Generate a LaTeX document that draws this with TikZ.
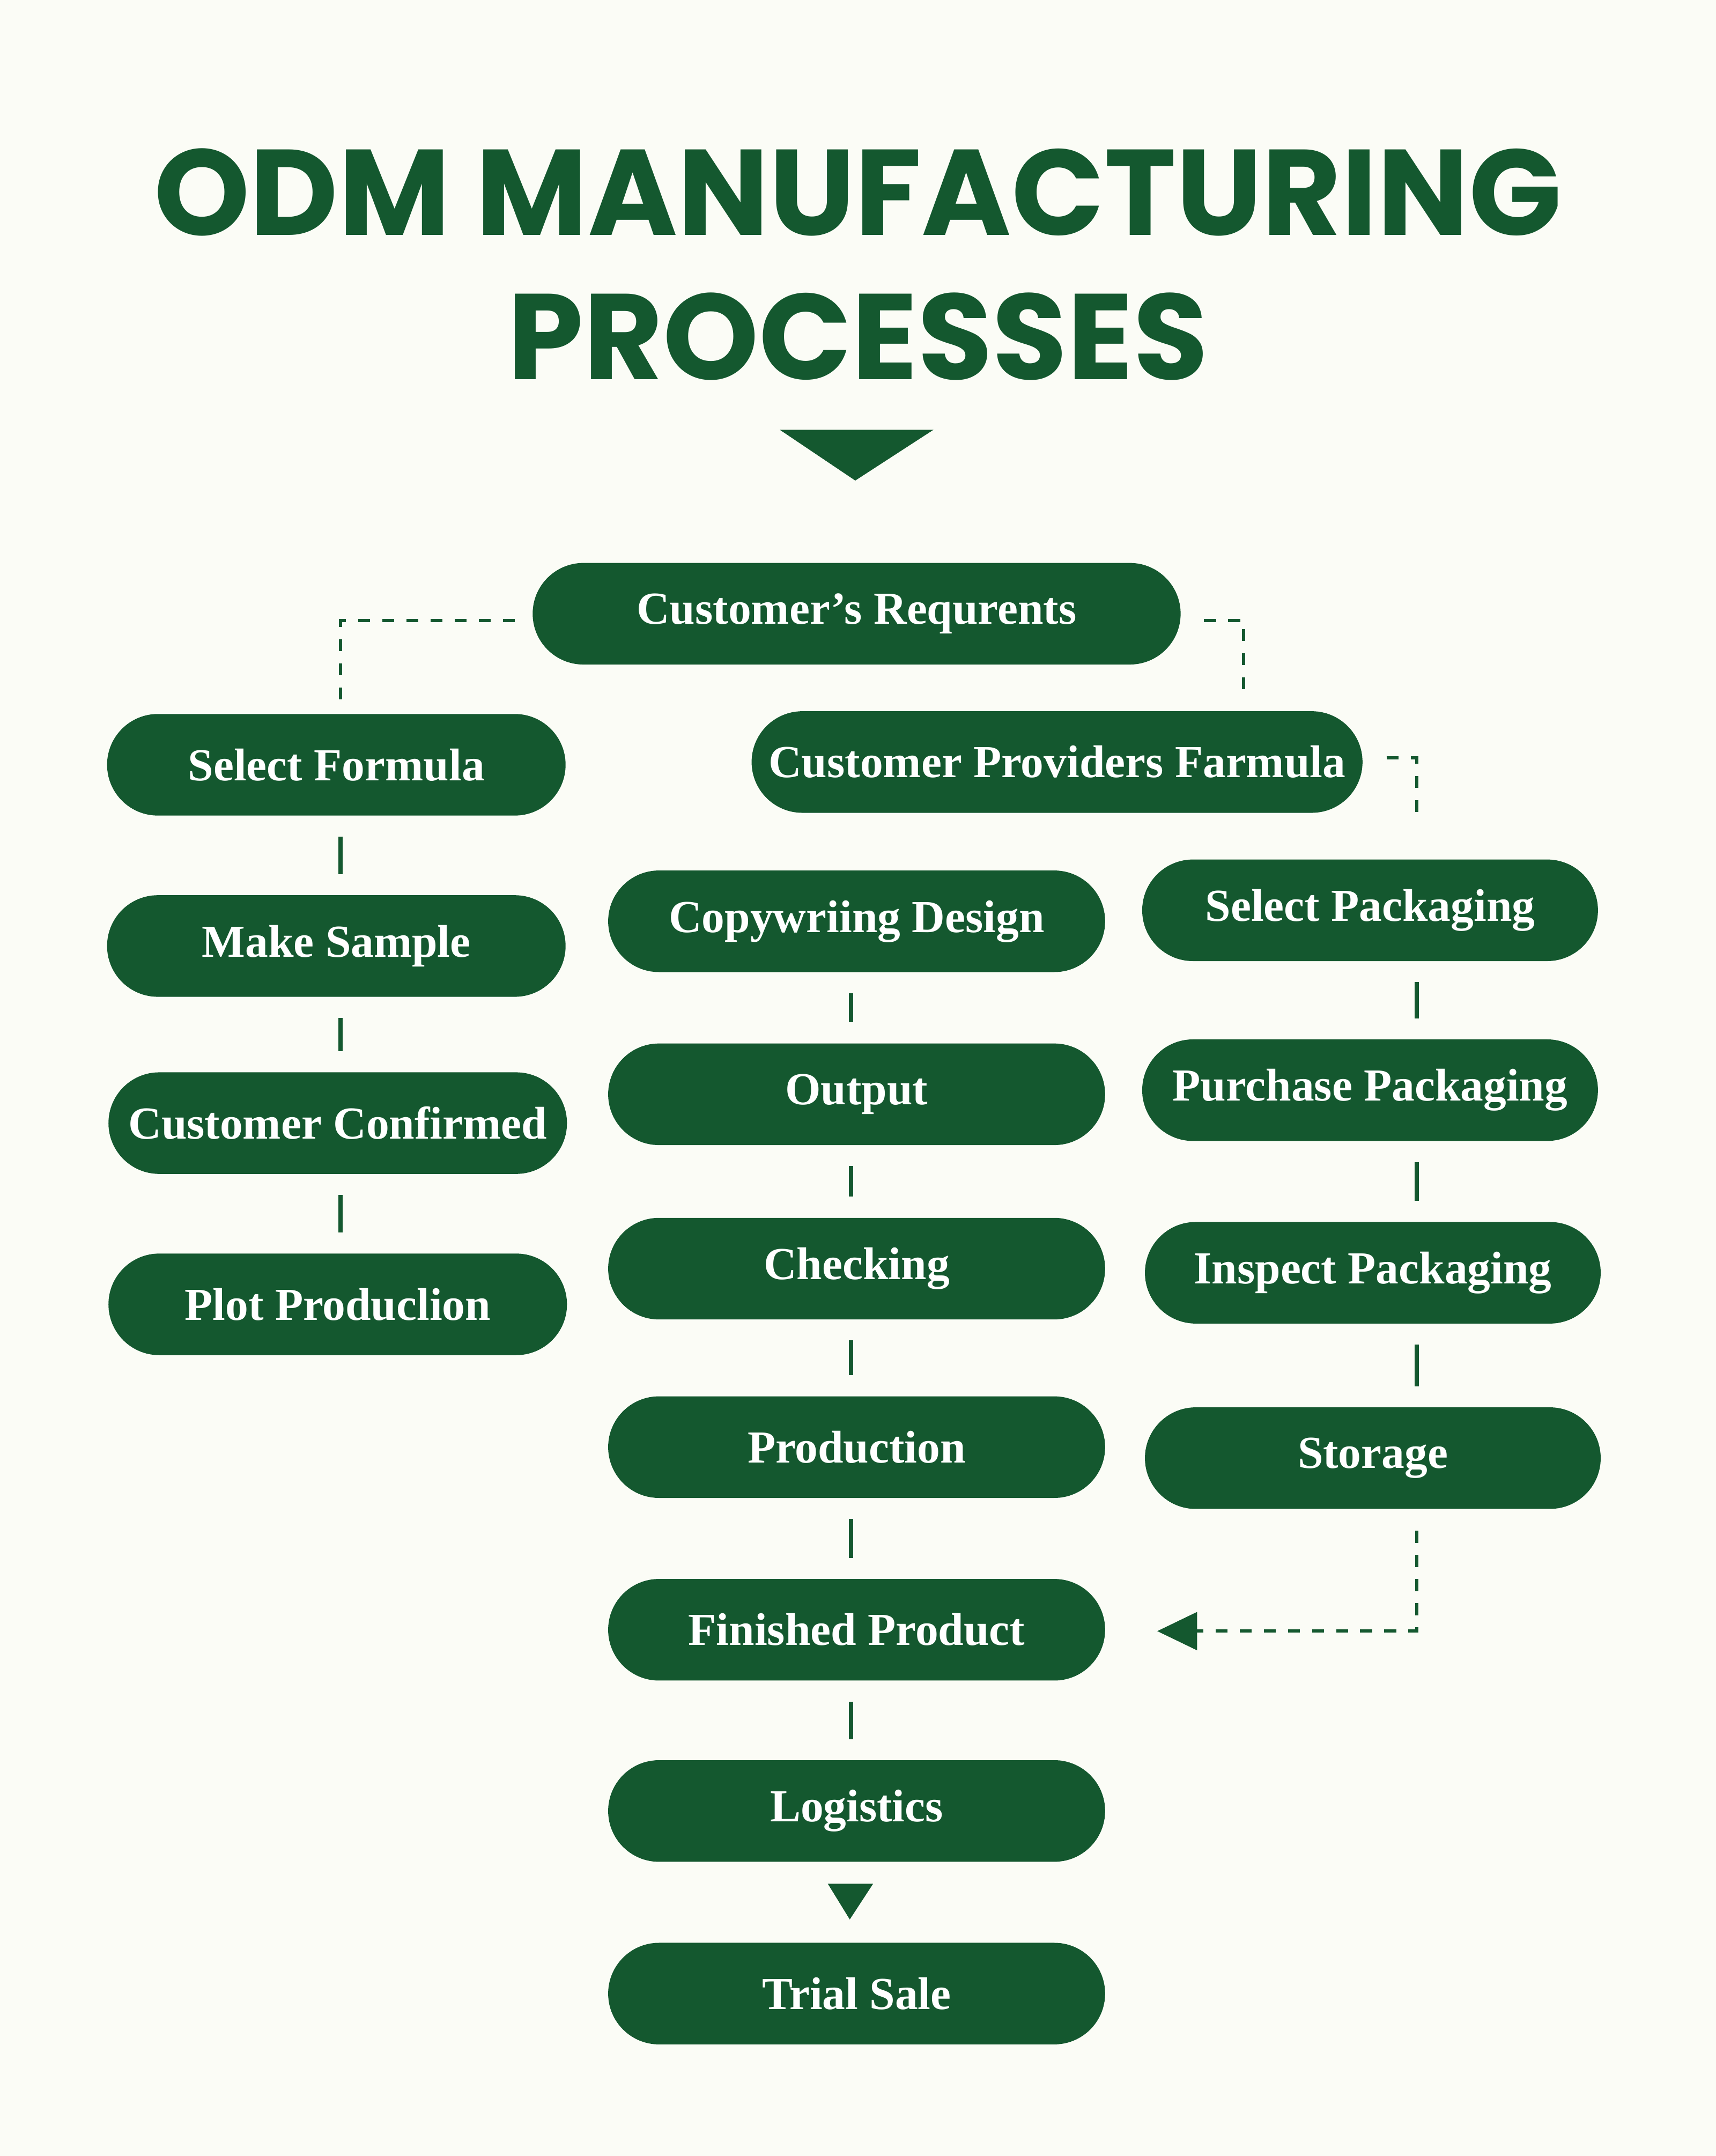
\documentclass[tikz,border=0pt]{standalone}
\usepackage{fontspec}
\setmainfont{Liberation Serif}
\newfontfamily\titlefont{Poppins}
\usetikzlibrary{positioning}
\definecolor{odmgreen}{HTML}{14582F}
\definecolor{odmbg}{HTML}{FBFCF6}
\tikzset{
  stage/.style={fill=odmgreen, text=white, rounded corners=0.74cm, minimum height=1.48cm,
    font=\fontsize{19}{22}\selectfont\bfseries, inner sep=0pt},
  link/.style={draw=odmgreen, line width=1.8pt, shorten <=15*0.02cm, shorten >=15*0.02cm},
  dashlink/.style={draw=odmgreen, line width=1.3pt, dash pattern=on 5pt off 5pt},
}
\begin{document}
\begin{tikzpicture}[x=0.02cm,y=-0.02cm]
  \fill[odmbg] (0,0) rectangle (1250,1570.3);
  \useasboundingbox (0,0) rectangle (1250,1570.3);
  % title
  \node[text=odmgreen, font=\titlefont\fontsize{50.5}{60}\selectfont\bfseries] (title1) at (625,140) {ODM MANUFACTURING};
  \node[text=odmgreen, font=\titlefont\fontsize{50.5}{60}\selectfont\bfseries] (title2) at (625,245) {PROCESSES};
  \fill[odmgreen] (568,313) -- (680,313) -- (623,350) -- cycle;

  % top
  \node[stage, minimum width=472*0.02cm] (req) at (624,447) {Customer’s Requrents};

  % left column
  \node[stage, minimum width=334*0.02cm] (formula) at (245,557) {Select Formula};
  \node[stage, minimum width=334*0.02cm] (sample) at (245,689) {Make Sample};
  \node[stage, minimum width=334*0.02cm] (confirm) at (246,818) {Customer Confirmed};
  \node[stage, minimum width=334*0.02cm] (pilot) at (246,950) {Plot Produclion};

  % middle column
  \node[stage, minimum width=445*0.02cm] (provide) at (770,555) {Customer Providers Farmula};
  \node[stage, minimum width=362*0.02cm] (copy) at (624,671) {Copywriing Design};
  \node[stage, minimum width=362*0.02cm] (output) at (624,797) {Output};
  \node[stage, minimum width=362*0.02cm] (check) at (624,924) {Checking};
  \node[stage, minimum width=362*0.02cm] (prod) at (624,1054) {Production};
  \node[stage, minimum width=362*0.02cm] (finish) at (624,1187) {Finished Product};
  \node[stage, minimum width=362*0.02cm] (logi) at (624,1319) {Logistics};
  \node[stage, minimum width=362*0.02cm] (trial) at (624,1452) {Trial Sale};

  % right column
  \node[stage, minimum width=332*0.02cm] (selpack) at (998,663) {Select Packaging};
  \node[stage, minimum width=332*0.02cm] (buypack) at (998,794) {Purchase Packaging};
  \node[stage, minimum width=332*0.02cm] (inspack) at (1000,927) {Inspect Packaging};
  \node[stage, minimum width=332*0.02cm] (store) at (1000,1062) {Storage};

  % solid links
  \draw[link] (formula.south -| 248,0) -- (sample.north -| 248,0);
  \draw[link] (sample.south -| 248,0) -- (confirm.north -| 248,0);
  \draw[link] (confirm.south -| 248,0) -- (pilot.north -| 248,0);
  \draw[link] (copy.south -| 620,0) -- (output.north -| 620,0);
  \draw[link] (output.south -| 620,0) -- (check.north -| 620,0);
  \draw[link] (check.south -| 620,0) -- (prod.north -| 620,0);
  \draw[link] (prod.south -| 620,0) -- (finish.north -| 620,0);
  \draw[link] (finish.south -| 620,0) -- (logi.north -| 620,0);
  \draw[link] (selpack.south -| 1032,0) -- (buypack.north -| 1032,0);
  \draw[link] (buypack.south -| 1032,0) -- (inspack.north -| 1032,0);
  \draw[link] (inspack.south -| 1032,0) -- (store.north -| 1032,0);

  % dashed links
  \coordinate (reqL) at (375,452);
  \coordinate (reqR) at (877,452);
  \coordinate (provR) at (1010,552);
  \coordinate (finR) at (870,1188);
  \draw[dashlink] (reqL) -- (248,452) -- (248,512);
  \draw[dashlink] (reqR) -- (906,452) -- (906,505);
  \draw[dashlink] (provR) -- (1032,552) -- (1032,600);
  \draw[dashlink] (1032,1115) -- (1032,1188) -- (finR);
  \fill[odmgreen] (843,1188) -- (872,1174) -- (872,1202) -- cycle;
  \fill[odmgreen] (603,1372) -- (636,1372) -- (619,1398) -- cycle;
\end{tikzpicture}
\end{document}
